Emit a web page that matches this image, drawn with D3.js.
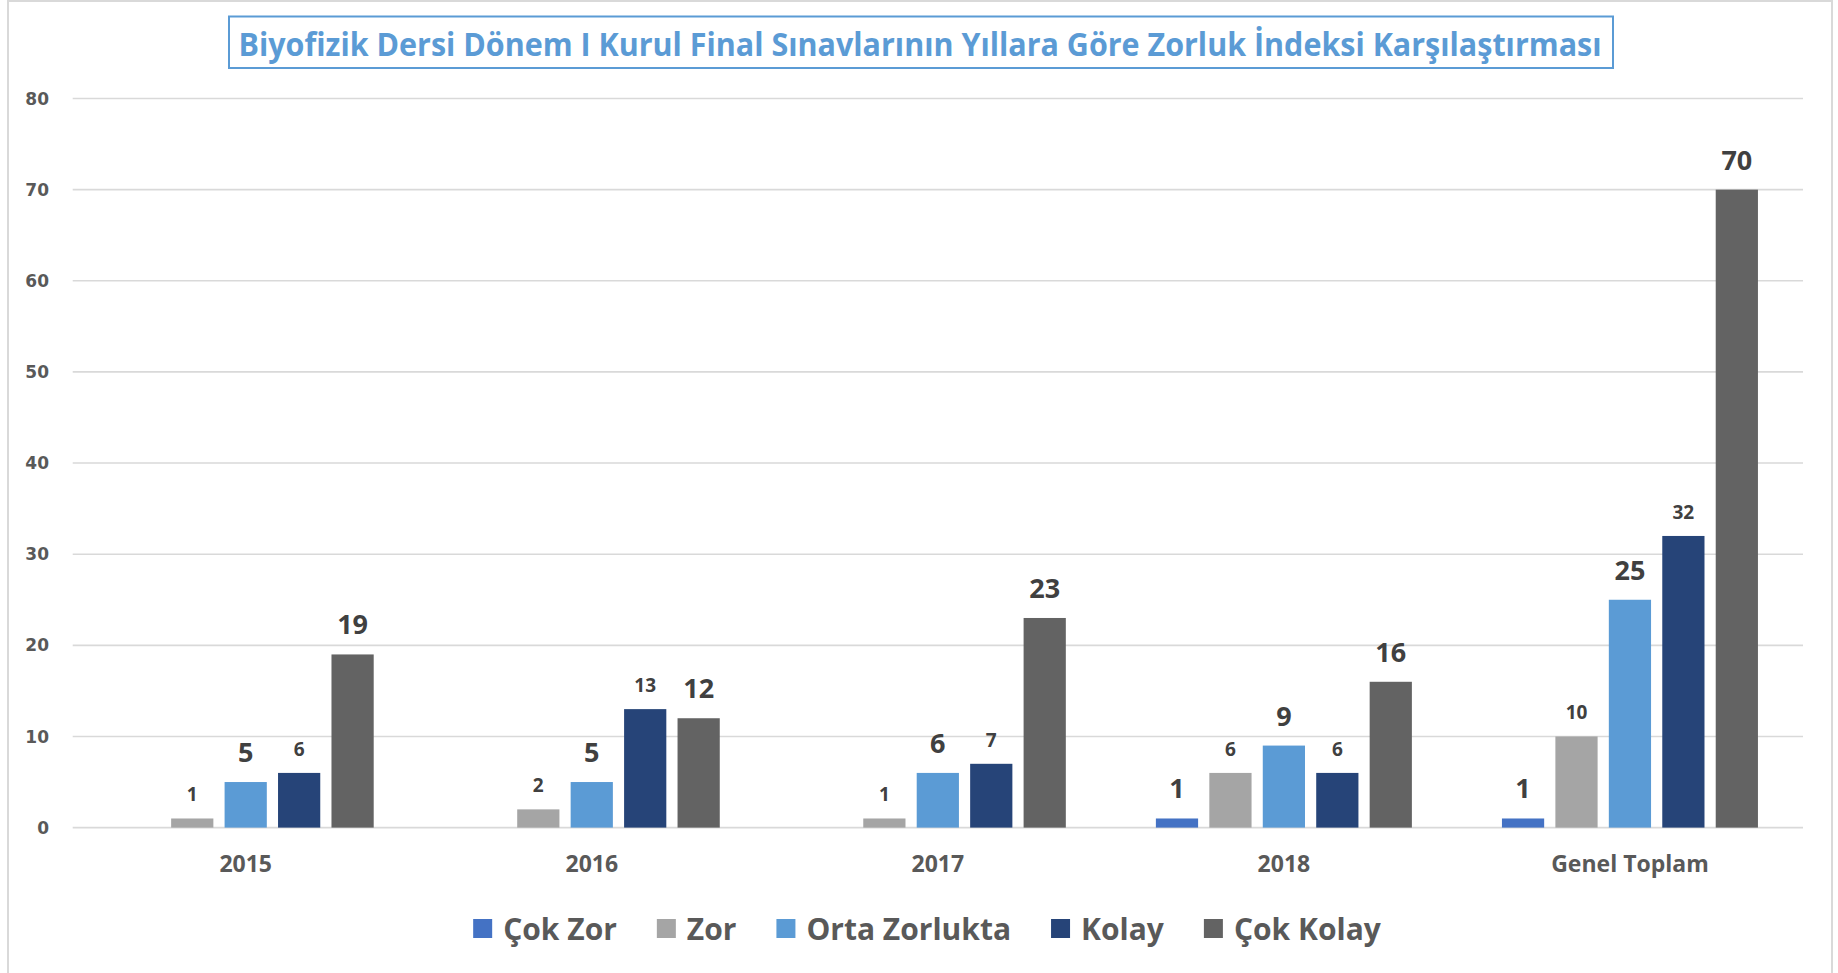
<!DOCTYPE html>
<html>
<head>
<meta charset="utf-8">
<script src="https://cdn.jsdelivr.net/npm/d3@7"></script>
<style>
  body { margin: 0; background: #fff; }
  svg { display: block; }
</style>
</head>
<body>
<svg id="chart" width="1838" height="973"></svg>
<script>
// data
const years = ['2015', '2016', '2017', '2018', 'Genel Toplam'];
const levels = ['Çok Zor', 'Zor', 'Orta Zorlukta', 'Kolay', 'Çok Kolay'];
const cokZor = [0, 0, 0, 1, 1];
const zor = [1, 2, 1, 6, 10];
const orta = [5, 5, 6, 9, 25];
const kolay = [6, 13, 7, 6, 32];
const cokKolay = [19, 12, 23, 16, 70];
const yTicks = [0, 10, 20, 30, 40, 50, 60, 70, 80];

const colors = ['#4472C4', '#A5A5A5', '#5B9BD5', '#264478', '#636363'];
// big labels for some series, small for the others (like the original)
const bigLabel = [true, false, true, false, true];

const seriesValues = [cokZor, zor, orta, kolay, cokKolay];
const rows = years.map(function (y, i) {
  return { year: y, values: levels.map(function (l, j) { return { level: l, idx: j, value: seriesValues[j][i] }; }) };
});

const svg = d3.select('#chart');

// outer frame
svg.append('rect')
  .attr('x', 8).attr('y', 1)
  .attr('width', 1824).attr('height', 980)
  .attr('fill', 'none')
  .attr('stroke', '#d9d9d9')
  .attr('stroke-width', 2);

const x0 = d3.scaleBand().domain(years).range([72.7, 1803]);
const x1 = d3.scaleBand().domain(levels).range([45, 301]).paddingInner(0.21);
const y = d3.scaleLinear().domain([0, 80]).range([827.6, 98.5]);

// gridlines
svg.append('g')
  .selectAll('line')
  .data(yTicks)
  .join('line')
  .attr('x1', 72.7).attr('x2', 1803)
  .attr('y1', d => y(d)).attr('y2', d => y(d))
  .attr('stroke', '#d9d9d9')
  .attr('stroke-width', 1.6);

// y tick labels
svg.append('g')
  .selectAll('text')
  .data(yTicks)
  .join('text')
  .attr('x', 49)
  .attr('y', d => y(d))
  .attr('dy', '0.36em')
  .attr('text-anchor', 'end')
  .attr('font-family', 'DejaVu Sans')
  .attr('font-weight', 'bold')
  .attr('font-size', 17)
  .attr('fill', '#595959')
  .text(d => d);

// bars
const groups = svg.append('g')
  .selectAll('g')
  .data(rows)
  .join('g')
  .attr('transform', d => 'translate(' + x0(d.year) + ',0)');

groups.selectAll('rect')
  .data(d => d.values.filter(v => v.value > 0))
  .join('rect')
  .attr('x', d => x1(d.level))
  .attr('y', d => y(d.value))
  .attr('width', x1.bandwidth())
  .attr('height', d => y(0) - y(d.value))
  .attr('fill', d => colors[d.idx]);

groups.selectAll('text')
  .data(d => d.values.filter(v => v.value > 0))
  .join('text')
  .attr('x', d => x1(d.level) + x1.bandwidth() / 2)
  .attr('y', d => y(d.value) - (bigLabel[d.idx] ? 20 : 17))
  .attr('text-anchor', 'middle')
  .attr('font-family', 'Open Sans')
  .attr('font-weight', 'bold')
  .attr('font-size', d => bigLabel[d.idx] ? 27 : 19)
  .attr('fill', '#404040')
  .text(d => d.value);

// category labels
svg.append('g')
  .selectAll('text')
  .data(years)
  .join('text')
  .attr('x', d => x0(d) + x0.bandwidth() / 2)
  .attr('y', 872)
  .attr('text-anchor', 'middle')
  .attr('font-family', 'Open Sans')
  .attr('font-weight', 'bold')
  .attr('font-size', 23)
  .attr('fill', '#595959')
  .text(d => d);

// title in a box
svg.append('rect')
  .attr('x', 229).attr('y', 16.5)
  .attr('width', 1384).attr('height', 51.5)
  .attr('fill', '#fff')
  .attr('stroke', '#5B9BD5')
  .attr('stroke-width', 2);

svg.append('text')
  .attr('x', 920)
  .attr('y', 56)
  .attr('text-anchor', 'middle')
  .attr('font-family', 'Open Sans')
  .attr('font-weight', 'bold')
  .attr('font-size', 32)
  .attr('fill', '#5B9BD5')
  .attr('textLength', 1363)
  .attr('lengthAdjust', 'spacingAndGlyphs')
  .text('Biyofizik Dersi Dönem I Kurul Final Sınavlarının Yıllara Göre Zorluk İndeksi Karşılaştırması');

// legend
const legend = svg.append('g');
const items = legend.selectAll('g')
  .data(levels)
  .join('g');

items.append('rect')
  .attr('width', 19).attr('height', 19)
  .attr('y', 919)
  .attr('fill', (d, i) => colors[i]);

items.append('text')
  .attr('x', 30)
  .attr('y', 940)
  .attr('font-family', 'Open Sans')
  .attr('font-weight', 'bold')
  .attr('font-size', 30)
  .attr('fill', '#595959')
  .text(d => d);

let pos = 0;
const itemPos = [];
items.each(function () {
  const w = 30 + d3.select(this).select('text').node().getComputedTextLength();
  itemPos.push(pos);
  pos += w + 40;
});
const totalW = pos - 40;
const startX = 927 - totalW / 2;
items.attr('transform', (d, i) => 'translate(' + (startX + itemPos[i]) + ',0)');
</script>
</body>
</html>
